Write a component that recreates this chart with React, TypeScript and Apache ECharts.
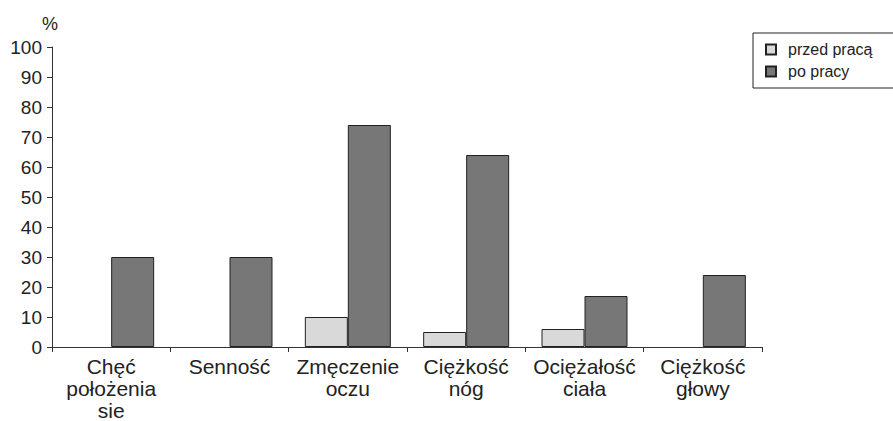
import React, { useEffect, useRef } from "react";
import * as echarts from "echarts";

const categories = ["Chęć\npołożenia\nsie", "Senność", "Zmęczenie\noczu", "Ciężkość\nnóg", "Ociężałość\nciała", "Ciężkość\ngłowy"];
const przedPraca = [0, 0, 10, 5, 6, 0];
const poPracy = [30, 30, 74, 64, 17, 24];
const seriesNames = ["przed pracą", "po pracy"];

export default function App() {
  const ref = useRef<HTMLDivElement>(null);
  useEffect(() => {
    document.body.style.margin = "0";
    const chart = echarts.init(ref.current!, null, { renderer: "svg" });
    const font = "Liberation Sans, Arial, sans-serif";
    const hideZero = (arr: number[]) => arr.map((v) => (v === 0 ? "-" : v));
    chart.setOption({
      animation: false,
      backgroundColor: "#ffffff",
      textStyle: { fontFamily: font },
      grid: { left: 52, right: 131, top: 47, bottom: 74 },
      legend: {
        orient: "vertical",
        left: 753,
        top: 33,
        width: 138,
        padding: [8, 30, 8, 12],
        itemGap: 5,
        itemWidth: 10,
        itemHeight: 10,
        icon: "rect",
        borderColor: "#222",
        borderWidth: 1,
        borderRadius: 0,
        textStyle: { fontSize: 16, color: "#222", fontFamily: font, padding: [0, 0, 0, 7], height: 17, lineHeight: 17 },
        data: seriesNames,
      },
      xAxis: {
        type: "category",
        data: categories,
        axisLine: { lineStyle: { color: "#333", width: 1 } },
        axisTick: { show: true, length: 5, lineStyle: { color: "#333" } },
        axisLabel: { fontSize: 21, color: "#222", lineHeight: 22, margin: 8, interval: 0, fontFamily: font },
      },
      yAxis: {
        type: "value",
        min: 0,
        max: 100,
        interval: 10,
        name: "%",
        nameLocation: "end",
        nameGap: 14,
        nameTextStyle: { fontSize: 18, color: "#222", align: "right", padding: [0, -6, 0, 0], fontFamily: font },
        splitLine: { show: false },
        axisLine: { show: true, lineStyle: { color: "#333", width: 1 } },
        axisTick: { show: true, length: 5, lineStyle: { color: "#333" } },
        axisLabel: { fontSize: 19, color: "#222", margin: 10, fontFamily: font },
      },
      series: [
        {
          name: seriesNames[0],
          type: "bar",
          data: hideZero(przedPraca),
          barWidth: 43,
          barGap: "0%",
          itemStyle: { color: "#d9d9d9", borderColor: "#222", borderWidth: 1 },
        },
        {
          name: seriesNames[1],
          type: "bar",
          data: hideZero(poPracy),
          barWidth: 43,
          barGap: "0%",
          itemStyle: { color: "#777777", borderColor: "#222", borderWidth: 1 },
        },
      ],
    });
    return () => chart.dispose();
  }, []);
  return <div ref={ref} style={{ width: 893, height: 421 }} />;
}
